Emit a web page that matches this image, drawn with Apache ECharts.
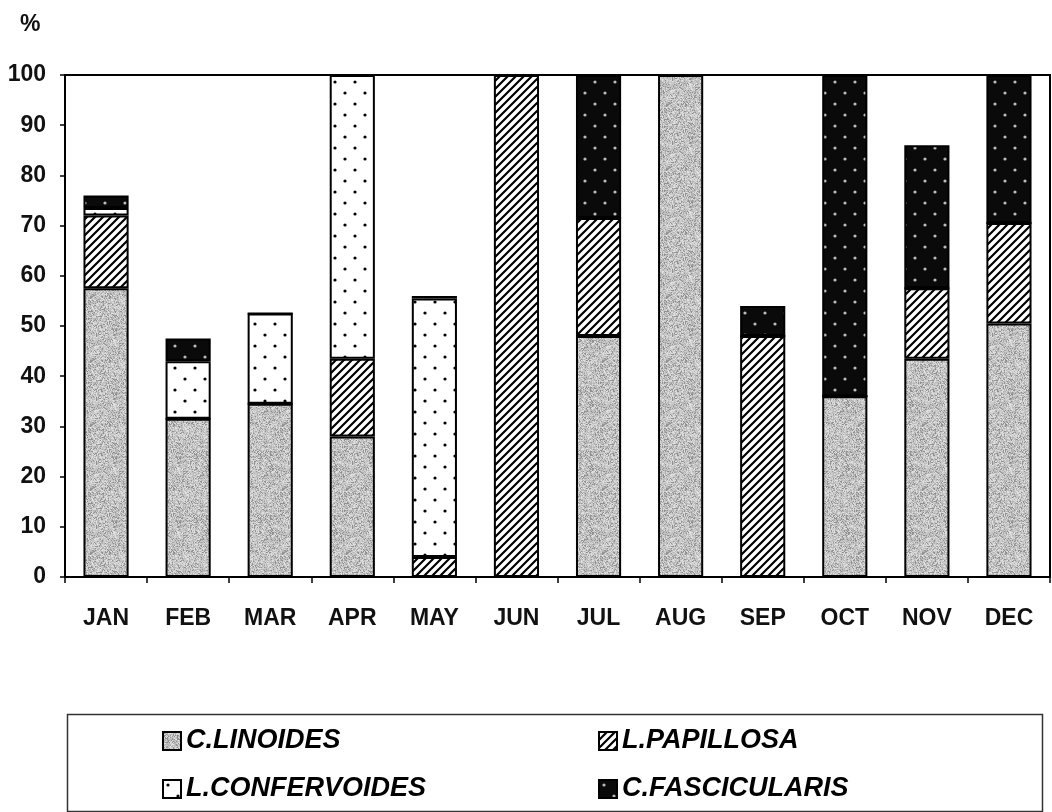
<!DOCTYPE html>
<html>
<head>
<meta charset="utf-8">
<script src="https://cdn.jsdelivr.net/npm/echarts@6/dist/echarts.min.js"></script>
<style>
html,body{margin:0;padding:0;background:#fff;}
#chart{width:1052px;height:812px;}
</style>
</head>
<body>
<div id="chart"></div>
<script>
var months = ['JAN','FEB','MAR','APR','MAY','JUN','JUL','AUG','SEP','OCT','NOV','DEC'];
var seriesNames = ['C.LINOIDES','L.PAPILLOSA','L.CONFERVOIDES','C.FASCICULARIS'];
var linoides      = [57.5, 31.5, 34.5, 28,   0,   0,  48, 100,  0, 36, 43.5, 50.5];
var papillosa     = [14.5,  0,    0,   15.5, 4, 100, 23.5,  0, 48,  0, 14,   20];
var confervoides  = [ 1.5, 11.5, 18,   56.5, 51.5, 0,  0,   0,  0,  0,  0,    0];
var fascicularis  = [ 2.5,  4.5,  0,    0,   0.5, 0, 28.5,  0,  6, 64, 28.5, 29.5];
var yTicks = [0,10,20,30,40,50,60,70,80,90,100];

// ---- fill textures ----
function stipple(){
  var c=document.createElement('canvas'); c.width=64; c.height=64;
  var g=c.getContext('2d'); var img=g.createImageData(64,64);
  var s=12345;
  for(var i=0;i<64*64;i++){
    s=(s*1103515245+12345)&0x7fffffff;
    var r=(s>>8)%100;
    var v = r<15 ? 145 : (r<42 ? 180 : (r<78 ? 200 : 222));
    img.data[i*4]=v; img.data[i*4+1]=v; img.data[i*4+2]=v; img.data[i*4+3]=255;
  }
  g.putImageData(img,0,0); return c;
}
function hatch(){
  var c=document.createElement('canvas'); c.width=8; c.height=8;
  var g=c.getContext('2d'); g.fillStyle='#fff'; g.fillRect(0,0,8,8);
  g.strokeStyle='#000'; g.lineWidth=2.2;
  g.beginPath();
  g.moveTo(-1,9); g.lineTo(9,-1);
  g.moveTo(-5,5); g.lineTo(5,-5);
  g.moveTo(3,13); g.lineTo(13,3);
  g.stroke(); return c;
}
function dots(bg,fg){
  var c=document.createElement('canvas'); c.width=20; c.height=22;
  var g=c.getContext('2d'); g.fillStyle=bg; g.fillRect(0,0,20,22);
  g.fillStyle=fg;
  g.beginPath(); g.arc(5,5,1.6,0,Math.PI*2); g.fill();
  g.beginPath(); g.arc(15,16,1.6,0,Math.PI*2); g.fill();
  return c;
}
var fills = [
  {image: stipple(), repeat:'repeat'},
  {image: hatch(), repeat:'repeat'},
  {image: dots('#fff','#000'), repeat:'repeat'},
  {image: dots('#0a0a0a','#bbb'), repeat:'repeat'}
];
var values = [linoides, papillosa, confervoides, fascicularis];

var chart = echarts.init(document.getElementById('chart'), null, {renderer:'canvas'});
var option = {
  animation:false,
  backgroundColor:'#fff',
  textStyle:{fontFamily:'"Liberation Sans", Arial, sans-serif'},
  grid:{left:65, top:75, right:2, bottom:235, show:true, borderColor:'#000', borderWidth:2, backgroundColor:'transparent'},
  xAxis:{
    type:'category', data:months,
    axisLine:{lineStyle:{color:'#000', width:2}},
    axisTick:{show:true, length:6, lineStyle:{color:'#000', width:1.5}},
    axisLabel:{margin:30, fontSize:23, fontWeight:'bold', color:'#111'}
  },
  yAxis:{
    type:'value', min:0, max:100, interval:10,
    axisLine:{show:true, lineStyle:{color:'#000', width:2}},
    axisTick:{show:true, length:5, lineStyle:{color:'#000', width:1.5}},
    splitLine:{show:false},
    axisLabel:{margin:19, fontSize:23, fontWeight:'bold', color:'#111',
      formatter:function(v){ return yTicks.indexOf(v)>=0 ? String(v) : ''; }}
  },
  legend:{
    data:seriesNames,
    left:162, top:727, width:880, padding:0,
    itemWidth:18, itemHeight:18, itemGap:20,
    icon:'rect',
    textStyle:{fontSize:27, fontWeight:'bold', fontStyle:'italic', color:'#000', width:392, lineHeight:28, padding:[0,0,0,0]}
  },
  graphic:[
    {type:'rect', left:65, top:712, shape:{width:975, height:97}, style:{fill:'none', stroke:'#333', lineWidth:1.5}, silent:true, z:-1},
    {type:'text', left:20, top:13, style:{text:'%', fontSize:23, fontWeight:'bold', fill:'#111', fontFamily:'"Liberation Sans", Arial, sans-serif'}}
  ],
  series: seriesNames.map(function(n,i){
    return {
      name:n, type:'bar', stack:'total', barWidth:'55%',
      data: values[i],
      itemStyle:{color:fills[i], borderColor:'#000', borderWidth:2}
    };
  })
};
chart.setOption(option);
</script>
</body>
</html>
